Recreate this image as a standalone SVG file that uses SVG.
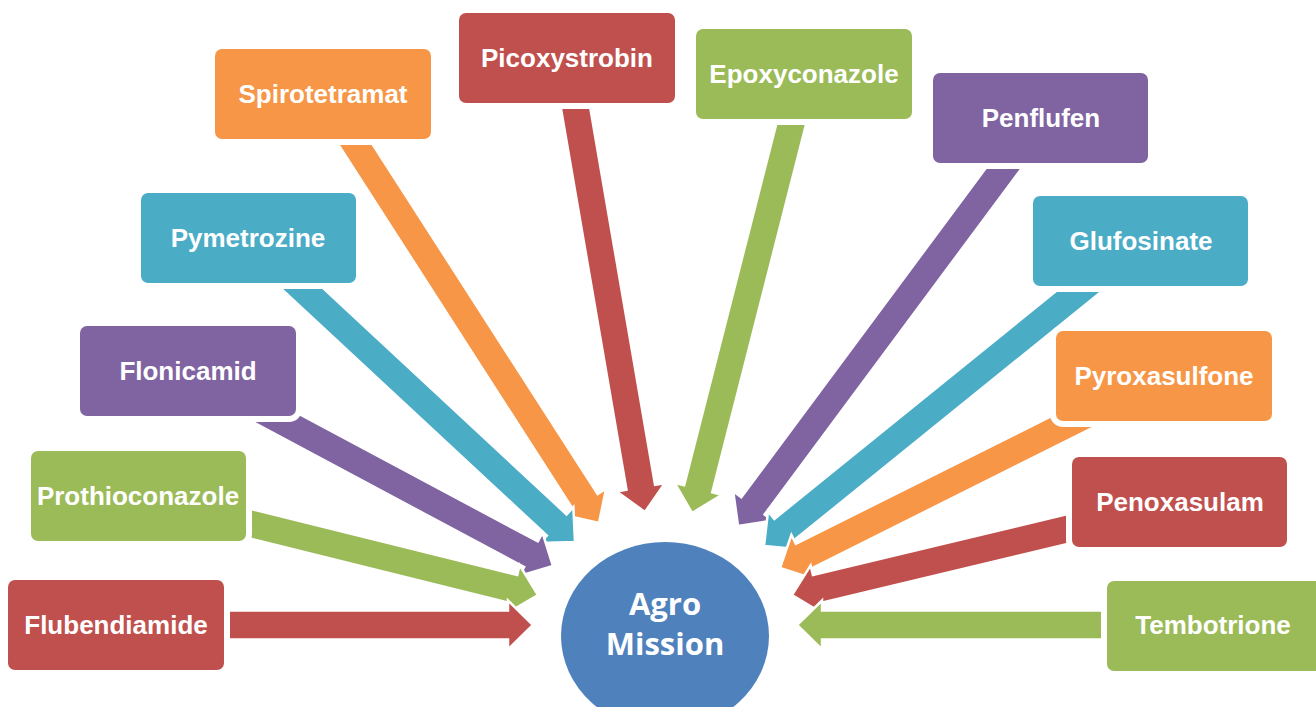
<svg xmlns="http://www.w3.org/2000/svg" width="1316" height="707" viewBox="0 0 1316 707">
<style>
.red{fill:#C0504D}.green{fill:#9BBB59}.purple{fill:#8064A2}.blue{fill:#4BACC6}.orange{fill:#F79646}
.arrow{stroke:#FFFFFF;stroke-width:2.5;stroke-linejoin:miter}
.box{stroke:#FFFFFF;stroke-width:12;paint-order:stroke fill}
.lbl{font-family:"Liberation Sans",Arial,sans-serif;font-weight:bold;font-size:26px;fill:#FFFFFF;text-anchor:middle}
.hub{font-family:"Open Sans","Liberation Sans",sans-serif;font-weight:bold;font-size:31px;fill:#FFFFFF;text-anchor:middle}
</style>
<rect width="1316" height="707" fill="#FFFFFF"/>
<g id="connectors">
  <polygon class="arrow red" transform="translate(645,512) rotate(80.25)" points="0,0 -25,-24.5 -25,-14.5 -461,-14.5 -461,14.5 -25,14.5 -25,24.5"/>
  <polygon class="arrow green" transform="translate(692,513) rotate(104.31)" points="0,0 -25,-24.5 -25,-14.5 -453,-14.5 -453,14.5 -25,14.5 -25,24.5"/>
  <polygon class="arrow orange" transform="translate(599,523) rotate(57.25)" points="0,0 -25,-24.5 -25,-14.5 -510,-14.5 -510,14.5 -25,14.5 -25,24.5"/>
  <polygon class="arrow blue" transform="translate(575,542) rotate(42.91)" points="0,0 -25,-24.5 -25,-14.5 -446,-14.5 -446,14.5 -25,14.5 -25,24.5"/>
  <polygon class="arrow purple" transform="translate(553,566) rotate(28.11)" points="0,0 -25,-24.5 -25,-14.5 -414,-14.5 -414,14.5 -25,14.5 -25,24.5"/>
  <polygon class="arrow green" transform="translate(538,595) rotate(13.90)" points="0,0 -25,-24.5 -25,-14.5 -412,-14.5 -412,14.5 -25,14.5 -25,24.5"/>
  <polygon class="arrow red" transform="translate(533,625) rotate(0)" points="0,0 -25,-24.5 -25,-14.5 -417,-14.5 -417,14.5 -25,14.5 -25,24.5"/>
  <polygon class="arrow purple" transform="translate(738,526) rotate(126.60)" points="0,0 -25,-24.5 -25,-14.5 -508,-14.5 -508,14.5 -25,14.5 -25,24.5"/>
  <polygon class="arrow blue" transform="translate(764,546) rotate(141.03)" points="0,0 -25,-24.5 -25,-14.5 -485,-14.5 -485,14.5 -25,14.5 -25,24.5"/>
  <polygon class="arrow orange" transform="translate(780,568) rotate(153.43)" points="0,0 -25,-24.5 -25,-14.5 -429,-14.5 -429,14.5 -25,14.5 -25,24.5"/>
  <polygon class="arrow red" transform="translate(792,595) rotate(166.52)" points="0,0 -25,-24.5 -25,-14.5 -399,-14.5 -399,14.5 -25,14.5 -25,24.5"/>
  <polygon class="arrow green" transform="translate(797,625) rotate(180)" points="0,0 -25,-24.5 -25,-14.5 -414,-14.5 -414,14.5 -25,14.5 -25,24.5"/>
</g>
<g id="flubendiamide"><rect class="box red" x="8" y="580" width="216" height="90" rx="7"/><text class="lbl" x="116" y="634">Flubendiamide</text></g>
<g id="prothioconazole"><rect class="box green" x="31" y="451" width="215" height="90" rx="7"/><text class="lbl" x="138" y="505">Prothioconazole</text></g>
<g id="flonicamid"><rect class="box purple" x="80" y="326" width="216" height="90" rx="7"/><text class="lbl" x="188" y="380">Flonicamid</text></g>
<g id="pymetrozine"><rect class="box blue" x="141" y="193" width="215" height="90" rx="7"/><text class="lbl" x="248" y="247">Pymetrozine</text></g>
<g id="spirotetramat"><rect class="box orange" x="215" y="49" width="216" height="90" rx="7"/><text class="lbl" x="323" y="103">Spirotetramat</text></g>
<g id="picoxystrobin"><rect class="box red" x="459" y="13" width="216" height="90" rx="7"/><text class="lbl" x="567" y="67">Picoxystrobin</text></g>
<g id="epoxyconazole"><rect class="box green" x="696" y="29" width="216" height="90" rx="7"/><text class="lbl" x="804" y="83">Epoxyconazole</text></g>
<g id="penflufen"><rect class="box purple" x="933" y="73" width="215" height="90" rx="7"/><text class="lbl" x="1041" y="127">Penflufen</text></g>
<g id="glufosinate"><rect class="box blue" x="1033" y="196" width="215" height="90" rx="7"/><text class="lbl" x="1141" y="250">Glufosinate</text></g>
<g id="pyroxasulfone"><rect class="box orange" x="1056" y="331" width="216" height="90" rx="7"/><text class="lbl" x="1164" y="385">Pyroxasulfone</text></g>
<g id="penoxasulam"><rect class="box red" x="1072" y="457" width="215" height="90" rx="7"/><text class="lbl" x="1180" y="511">Penoxasulam</text></g>
<g id="tembotrione"><rect class="box green" x="1107" y="581" width="216" height="90" rx="7"/><text class="lbl" x="1213" y="634">Tembotrione</text></g>
<g id="agro-mission"><ellipse cx="665" cy="636" rx="104" ry="94" fill="#4F81BD"/><text class="hub" x="665" y="615">Agro</text><text class="hub" x="665" y="655">Mission</text></g>
</svg>
